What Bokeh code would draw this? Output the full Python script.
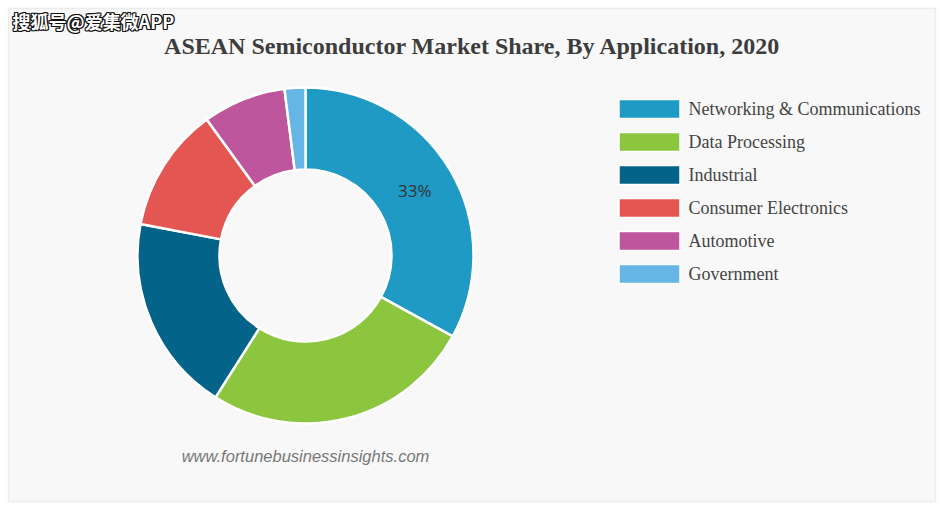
import math
from bokeh.plotting import figure
from bokeh.models import Range1d, ColumnDataSource
from bokeh.core.properties import value
from bokeh.embed import file_html
from bokeh.resources import INLINE

# ---- data ----
categories = ["Networking & Communications", "Data Processing", "Industrial",
              "Consumer Electronics", "Automotive", "Government"]
shares = [33, 26, 19, 12, 8, 2]
colors = ["#1f9ac4", "#8cc63e", "#046389", "#e45652", "#be569e", "#65b5e5"]
title_text = "ASEAN Semiconductor Market Share, By Application, 2020"
source_text = "www.fortunebusinessinsights.com"
watermark_text = "搜狐号@爱集微APP"

PW, PH = 945, 512          # page size
OFF_L, OFF_T = 8, 8        # card offset on the page
W, H = 927, 493            # card (frame) size


def fy(page_y):
    return H - (page_y - OFF_T)


def fx(page_x):
    return page_x - OFF_L


p = figure(width=PW, height=PH, output_backend="svg", toolbar_location=None,
           x_range=Range1d(0, W), y_range=Range1d(0, H),
           min_border_left=OFF_L, min_border_top=OFF_T,
           min_border_right=PW - W - OFF_L, min_border_bottom=PH - H - OFF_T,
           background_fill_color="#f8f8f8", border_fill_color="white")
p.axis.visible = False
p.grid.visible = False
p.outline_line_color = "#ececec"
p.outline_line_width = 1.5

# ---- donut ----
cx, cy = fx(305), fy(255)
r_out, r_in = 168, 86
total = float(sum(shares))
starts, ends, cum = [], [], 0.0
for v in shares:
    a0 = math.pi / 2 - 2 * math.pi * cum / total
    cum += v
    a1 = math.pi / 2 - 2 * math.pi * cum / total
    starts.append(a1)
    ends.append(a0)

src = ColumnDataSource(dict(start=starts, end=ends, color=colors,
                            x=[cx] * len(shares), y=[cy] * len(shares)))
p.annular_wedge(x="x", y="y", inner_radius=r_in, outer_radius=r_out,
                start_angle="start", end_angle="end", direction="anticlock",
                fill_color="color", line_color="white", line_width=2.5, source=src)

# percent labels for large slices
lx, ly, lt = [], [], []
for v, a0, a1 in zip(shares, starts, ends):
    if v >= 30:
        mid = (a0 + a1) / 2
        rm = (r_in + r_out) / 2
        lx.append(cx + rm * math.cos(mid))
        ly.append(cy + rm * math.sin(mid))
        lt.append(f"{v}%")
p.text(x=lx, y=ly, text=lt, text_align="center", text_baseline="middle",
       text_font=value("Open Sans"), text_font_size="17px", text_color="#333333")

# ---- legend ----
n = len(categories)
box_y = [fy(108.5 + 33 * i) for i in range(n)]
p.rect(x=[fx(649)] * n, y=box_y, width=61, height=19, fill_color=colors,
       line_color="white", line_width=1.5)
p.text(x=[fx(688)] * n, y=box_y, text=categories, text_align="left",
       text_baseline="middle", text_font=value("Liberation Serif"),
       text_font_size="18px", text_color="#444444")

# ---- title ----
p.text(x=[fx(472)], y=[fy(45)], text=[title_text], text_align="center",
       text_baseline="middle", text_font=value("Liberation Serif"),
       text_font_style="bold", text_font_size="24px", text_color="#3d3d3d")

# ---- source ----
p.text(x=[fx(305)], y=[fy(455)], text=[source_text], text_align="center",
       text_baseline="middle", text_font=value("Liberation Sans"),
       text_font_style="italic", text_font_size="16.5px", text_color="#777777")

# ---- watermark (white text with dark outline) ----
wx, wy = fx(12), fy(20)
for dx, dy in [(-1, 0), (1, 0), (0, -1), (0, 1), (-1, -1), (1, 1), (-1, 1), (1, -1)]:
    p.text(x=[wx + dx], y=[wy + dy], text=[watermark_text], text_align="left",
           text_baseline="middle", text_font=value("Noto Sans CJK SC"),
           text_font_style="bold", text_font_size="18px", text_color="#111111")
p.text(x=[wx], y=[wy], text=[watermark_text], text_align="left",
       text_baseline="middle", text_font=value("Noto Sans CJK SC"),
       text_font_style="bold", text_font_size="18px", text_color="white")

open("out.html", "w").write(file_html(p, INLINE))
